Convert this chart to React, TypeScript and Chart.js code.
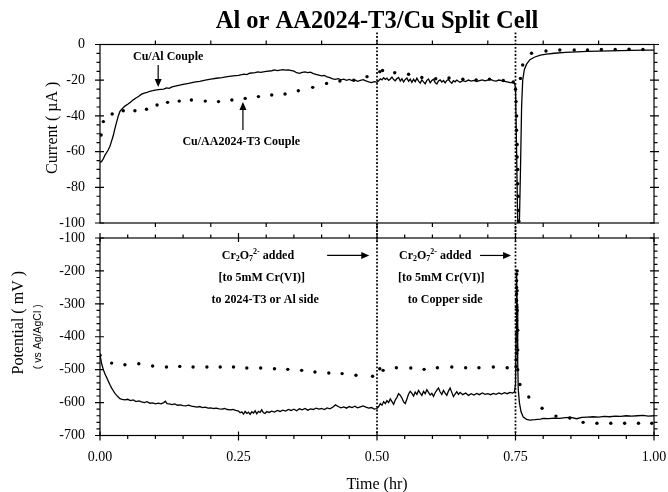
import React, { useEffect, useRef } from "react";
import { Chart, registerables } from "chart.js";

Chart.register(...registerables);

const SERIF = "'Liberation Serif', 'Times New Roman', Times, serif";
const SANS = "'Liberation Sans', Arial, sans-serif";

// ---------------- data ----------------
// Current, Cu/Al couple (solid line)
const cuAlTime = [
  0, 0.003, 0.006, 0.009, 0.012, 0.015, 0.018, 0.021, 0.024, 0.027,
  0.03, 0.033, 0.036, 0.04, 0.045, 0.05, 0.055, 0.06, 0.065, 0.07,
  0.075, 0.08, 0.085, 0.09, 0.095, 0.1, 0.105, 0.11, 0.115, 0.12,
  0.125, 0.13, 0.14, 0.15, 0.16, 0.17, 0.18, 0.19, 0.2, 0.21,
  0.22, 0.23, 0.24, 0.25, 0.26, 0.265, 0.27, 0.28, 0.285, 0.29,
  0.3, 0.31, 0.315, 0.32, 0.33, 0.335, 0.34, 0.35, 0.355, 0.36,
  0.365, 0.37, 0.375, 0.38, 0.385, 0.39, 0.395, 0.4, 0.405, 0.41,
  0.415, 0.42, 0.425, 0.43, 0.435, 0.44, 0.445, 0.45, 0.455, 0.46,
  0.465, 0.47, 0.475, 0.48, 0.485, 0.49, 0.495, 0.5, 0.503, 0.506,
  0.509, 0.512, 0.515, 0.518, 0.521, 0.524, 0.527, 0.53, 0.533, 0.536,
  0.539, 0.542, 0.545, 0.548, 0.551, 0.554, 0.557, 0.56, 0.563, 0.566,
  0.569, 0.572, 0.575, 0.578, 0.581, 0.584, 0.587, 0.59, 0.593, 0.596,
  0.599, 0.602, 0.605, 0.608, 0.611, 0.614, 0.617, 0.62, 0.623, 0.626,
  0.629, 0.632, 0.635, 0.638, 0.641, 0.644, 0.647, 0.65, 0.655, 0.66,
  0.665, 0.67, 0.675, 0.68, 0.685, 0.69, 0.695, 0.7, 0.705, 0.71,
  0.715, 0.72, 0.725, 0.73, 0.735, 0.74, 0.745, 0.748, 0.75, 0.752,
  0.754, 0.757, 0.759, 0.761, 0.763, 0.766, 0.77, 0.776, 0.785, 0.795,
  0.806, 0.82, 0.84, 0.86, 0.88, 0.9, 0.92, 0.94, 0.96, 0.98,
  1.0,
];
const cuAlCurrent = [
  -66, -65.5, -64, -62, -60.5, -59, -57, -54, -51, -47,
  -43.5, -40, -37.5, -36, -34.5, -33.5, -32.3, -31, -30, -29,
  -27.8, -27.2, -26.8, -26.2, -25.9, -25.5, -25.3, -25.1, -25, -24.3,
  -24.6, -23.8, -23.1, -22.4, -21.8, -21.1, -20.6, -20, -19.4, -18.9,
  -18.5, -18, -17.6, -17.3, -16.6, -16.9, -16.1, -15.8, -15.3, -15.6,
  -15, -14.7, -14.2, -14.6, -14.1, -14.4, -14.2, -14.9, -15.8, -16.2,
  -15.6, -15.3, -15.8, -15.5, -16.3, -16.8, -17.2, -17.6, -17.3, -18.2,
  -18.6, -19.2, -19.5, -19.1, -19.8, -19.4, -20.1, -19.6, -20.2, -19.8,
  -20.6, -20.1, -19.7, -20.4, -20.9, -21.3, -20.8, -21.2, -20.3, -19.2,
  -19.8, -18.6, -19.5, -18.9, -20.1, -19.3, -18.2, -19.6, -20.3, -19.1,
  -18.5, -20.4, -19.2, -21, -19.6, -18.8, -20.6, -19.4, -21.2, -19.5,
  -20.8, -18.9, -20.5, -21.6, -19.8, -20.9, -22, -20.1, -19.3, -21.4,
  -20.2, -19.5, -21.3, -22.1, -20.4, -19.8, -21, -20.2, -21.5, -20.1,
  -19.6, -20.8, -21.7, -20.3, -20.9, -19.9, -20.6, -21.2, -20.3, -20.8,
  -19.9, -20.5, -20.1, -20.7, -20.2, -19.8, -20.4, -20, -19.6, -20.2,
  -20.5, -19.9, -20.3, -20.6, -20.9, -21.4, -21.2, -21.6, -24, -60,
  -100, -100, -70, -35, -20, -14, -11, -8.5, -7, -6,
  -5.4, -4.9, -4.4, -4.1, -3.9, -3.7, -3.6, -3.4, -3.3, -3.2,
  -3.1,
];

// Current, Cu/AA2024-T3 couple (dots)
const cuAaTime = [
  0.002, 0.006, 0.022, 0.042, 0.063, 0.084, 0.103, 0.122, 0.143, 0.165,
  0.19, 0.214, 0.238, 0.262, 0.286, 0.31, 0.334, 0.358, 0.384, 0.409,
  0.433, 0.458, 0.482, 0.505, 0.51, 0.532, 0.557, 0.581, 0.606, 0.63,
  0.655, 0.679, 0.703, 0.728, 0.746, 0.75, 0.751, 0.752, 0.752, 0.753,
  0.753, 0.754, 0.754, 0.755, 0.755, 0.756, 0.759, 0.763, 0.779, 0.805,
  0.83, 0.856, 0.88, 0.905, 0.93, 0.955, 0.98,
];
const cuAaCurrent = [
  -50.7, -43.2, -38.9, -37.1, -37.1, -36.3, -33.9, -32.4, -31.7, -31.1,
  -31.7, -32, -31.1, -30.2, -29.2, -28.3, -27.7, -25.9, -24, -21.8,
  -20.5, -20, -18, -15.2, -14.6, -15.8, -16.7, -18.5, -19.2, -18.8,
  -19.5, -19.8, -19.4, -20.2, -21, -25, -32, -40, -48, -56,
  -63, -70, -78, -85, -93, -99, -19, -11.5, -4.9, -3.6,
  -3.1, -3.1, -3.1, -2.8, -2.8, -2.6, -2.8,
];

// Potential, Cu/Al couple (solid line)
const cuAlPotTime = [
  0, 0.003, 0.006, 0.009, 0.012, 0.015, 0.018, 0.021, 0.024, 0.027,
  0.03, 0.033, 0.036, 0.04, 0.045, 0.05, 0.055, 0.06, 0.065, 0.07,
  0.075, 0.08, 0.085, 0.09, 0.095, 0.1, 0.105, 0.11, 0.115, 0.118,
  0.121, 0.125, 0.13, 0.135, 0.14, 0.145, 0.15, 0.155, 0.16, 0.165,
  0.17, 0.175, 0.18, 0.185, 0.19, 0.195, 0.2, 0.205, 0.21, 0.215,
  0.22, 0.225, 0.23, 0.235, 0.24, 0.245, 0.25, 0.253, 0.256, 0.259,
  0.262, 0.265, 0.268, 0.271, 0.274, 0.277, 0.28, 0.283, 0.286, 0.289,
  0.292, 0.295, 0.298, 0.301, 0.305, 0.31, 0.315, 0.32, 0.325, 0.33,
  0.335, 0.34, 0.345, 0.35, 0.355, 0.36, 0.365, 0.37, 0.375, 0.38,
  0.385, 0.39, 0.395, 0.4, 0.405, 0.41, 0.415, 0.42, 0.425, 0.43,
  0.435, 0.44, 0.445, 0.45, 0.455, 0.46, 0.465, 0.47, 0.475, 0.48,
  0.485, 0.49, 0.495, 0.5, 0.503, 0.506, 0.509, 0.512, 0.515, 0.518,
  0.521, 0.524, 0.527, 0.53, 0.533, 0.536, 0.539, 0.542, 0.545, 0.548,
  0.551, 0.554, 0.557, 0.56, 0.563, 0.566, 0.569, 0.572, 0.575, 0.578,
  0.581, 0.584, 0.587, 0.59, 0.593, 0.596, 0.599, 0.602, 0.605, 0.608,
  0.611, 0.614, 0.617, 0.62, 0.623, 0.626, 0.629, 0.632, 0.635, 0.638,
  0.641, 0.644, 0.647, 0.65, 0.655, 0.66, 0.665, 0.67, 0.675, 0.68,
  0.685, 0.69, 0.695, 0.7, 0.705, 0.71, 0.715, 0.72, 0.725, 0.73,
  0.735, 0.74, 0.745, 0.748, 0.75, 0.751, 0.752, 0.753, 0.754, 0.755,
  0.757, 0.76, 0.764, 0.77, 0.776, 0.785, 0.795, 0.8, 0.81, 0.82,
  0.83, 0.84, 0.85, 0.86, 0.87, 0.88, 0.89, 0.9, 0.91, 0.92,
  0.93, 0.94, 0.95, 0.96, 0.97, 0.98, 0.99, 1.0,
];
const cuAlPotential = [
  -456, -482, -500, -513, -524, -535, -546, -556, -564, -572,
  -578, -583, -588, -590, -592, -590, -594, -592, -597, -595,
  -598, -600, -597, -602, -601, -604, -602, -604, -600, -596,
  -603, -604, -606, -604, -608, -607, -609, -610, -608, -611,
  -612, -614, -612, -615, -614, -617, -616, -618, -617, -619,
  -620, -618, -621, -622, -621, -624, -626, -631, -628, -635,
  -627, -633, -629, -636, -628, -632, -625, -634, -627, -630,
  -622, -631, -633, -627, -630, -626, -629, -624, -627, -623,
  -626, -621, -624, -620, -625, -619, -622, -618, -623, -619,
  -621, -617, -620, -618, -621, -616, -619, -614, -607, -612,
  -616, -613, -617, -612, -615, -611, -616, -613, -610, -614,
  -617, -615, -620, -618, -612, -603, -608, -597, -603, -594,
  -600, -589, -597, -605, -592, -584, -573, -578, -586, -598,
  -603, -589, -574, -566, -572, -580, -568, -575, -563, -571,
  -578, -566, -573, -561, -569, -577, -572, -581, -570, -562,
  -556, -568, -575, -563, -571, -578, -565, -556, -569, -582,
  -574, -567, -575, -569, -576, -571, -578, -573, -577, -572,
  -576, -571, -575, -573, -576, -572, -575, -571, -574, -570,
  -573, -569, -571, -568, -545, -400, -205, -300, -480, -560,
  -600, -628, -644, -651, -653, -652, -650, -648, -649, -647,
  -648, -646, -645, -649, -645, -644, -643, -644, -642, -643,
  -641, -642, -640, -641, -640, -639, -641, -640,
];

// Potential, Cu/AA2024-T3 couple (dots)
const cuAaPotTime = [
  0, 0.021, 0.045, 0.07, 0.095, 0.12, 0.144, 0.168, 0.193, 0.217,
  0.241, 0.265, 0.29, 0.315, 0.339, 0.364, 0.388, 0.413, 0.437, 0.462,
  0.492, 0.505, 0.511, 0.535, 0.561, 0.585, 0.609, 0.635, 0.66, 0.684,
  0.71, 0.735, 0.751, 0.751, 0.752, 0.752, 0.752, 0.752, 0.752, 0.752,
  0.752, 0.752, 0.752, 0.752, 0.752, 0.752, 0.752, 0.753, 0.753, 0.753,
  0.754, 0.754, 0.754, 0.758, 0.774, 0.798, 0.823, 0.848, 0.872, 0.897,
  0.922, 0.947, 0.972, 0.996,
];
const cuAaPotential = [
  -456, -480, -485, -482, -489, -492, -490, -492, -492, -492,
  -492, -495, -495, -497, -499, -502, -507, -510, -512, -517,
  -520, -497, -502, -494, -495, -499, -494, -492, -494, -494,
  -492, -494, -490, -470, -450, -430, -410, -390, -370, -350,
  -330, -310, -290, -270, -250, -230, -210, -200, -260, -320,
  -380, -440, -500, -545, -583, -617, -641, -647, -660, -663,
  -663, -663, -663, -663,
];

// axes ticks
const currentTicks = [0, -20, -40, -60, -80, -100];
const currentMinorTicks = [-5, -10, -15, -25, -30, -35, -45, -50, -55, -65, -70, -75, -85, -90, -95];
const potentialTicks = [-100, -200, -300, -400, -500, -600, -700];
const potentialMinorTicks = [
  -120, -140, -160, -180, -220, -240, -260, -280, -320, -340, -360, -380,
  -420, -440, -460, -480, -520, -540, -560, -580, -620, -640, -660, -680,
];
const timeTicks = [0, 0.25, 0.5, 0.75, 1];
const timeMinorTicks = [0.05, 0.1, 0.15, 0.2, 0.3, 0.35, 0.4, 0.45, 0.55, 0.6, 0.65, 0.7, 0.8, 0.85, 0.9, 0.95];
const topTimeTicks = [0.1, 0.2, 0.3, 0.4, 0.5, 0.6, 0.7, 0.8, 0.9];

// events (Cr2O7 2- additions)
const additionTimes = [0.5, 0.75];

// text
const chartTitle = "Al or AA2024-T3/Cu Split Cell";
const coupleLabels = ["Cu/Al Couple", "Cu/AA2024-T3 Couple"];
const coupleLabelTimes = [0.123, 0.255];
const coupleLabelCurrents = [-7, -54.6];
const coupleArrowTimes = [0.105, 0.258];
const coupleArrowFrom = [-11.5, -47.9];
const coupleArrowTo = [-23.8, -32.2];

const noteSecondLines = ["[to 5mM Cr(VI)]", "[to 5mM Cr(VI)]"];
const noteThirdLines = ["to 2024-T3 or Al side", "to Copper side"];
const noteLineTimes = [
  [0.285, 0.292, 0.298],
  [0.605, 0.616, 0.623],
];
const noteLinePotentials = [-153, -221, -288];
const noteArrowStart = [0.41, 0.686];
const noteArrowEnd = [0.486, 0.742];

// ---------------- helpers ----------------
const toPoints = (ts: number[], vs: number[]) =>
  ts.slice(0, Math.min(ts.length, vs.length)).map((t, i) => ({ x: t, y: vs[i] }));

function drawArrow(ctx: CanvasRenderingContext2D, x1: number, y1: number, x2: number, y2: number) {
  const a = Math.atan2(y2 - y1, x2 - x1);
  const hl = 8;
  const hw = 3.5;
  const c = Math.cos(a);
  const s = Math.sin(a);
  ctx.beginPath();
  ctx.moveTo(x1, y1);
  ctx.lineTo(x2 - hl * 0.7 * c, y2 - hl * 0.7 * s);
  ctx.stroke();
  ctx.beginPath();
  ctx.moveTo(x2, y2);
  ctx.lineTo(x2 - hl * c + hw * s, y2 - hl * s - hw * c);
  ctx.lineTo(x2 - hl * c - hw * s, y2 - hl * s + hw * c);
  ctx.closePath();
  ctx.fill();
}

type FrameSpec = {
  yMajor: number[];
  yMinor: number[];
  xMajor: number[];
  xMinor: number[];
  xMinorLen: number;
};

function framePlugin(id: string, spec: FrameSpec) {
  return {
    id,
    afterDraw(chart: any) {
      const { ctx } = chart;
      const { left, right, top, bottom } = chart.chartArea;
      const xs = chart.scales.x;
      const ys = chart.scales.y;
      ctx.save();
      ctx.strokeStyle = "#000";
      ctx.lineWidth = 1.2;
      ctx.strokeRect(left, top, right - left, bottom - top);
      ctx.beginPath();
      for (const v of spec.yMajor) {
        const p = ys.getPixelForValue(v);
        ctx.moveTo(left - 5, p);
        ctx.lineTo(left + 4, p);
        ctx.moveTo(right - 4, p);
        ctx.lineTo(right + 5, p);
      }
      for (const v of spec.yMinor) {
        const p = ys.getPixelForValue(v);
        ctx.moveTo(left - 3.5, p);
        ctx.lineTo(left, p);
        ctx.moveTo(right, p);
        ctx.lineTo(right + 3.5, p);
      }
      for (const v of spec.xMajor) {
        const p = xs.getPixelForValue(v);
        ctx.moveTo(p, bottom - 4);
        ctx.lineTo(p, bottom + 5);
        ctx.moveTo(p, top - 5);
        ctx.lineTo(p, top + 4);
      }
      for (const v of spec.xMinor) {
        const p = xs.getPixelForValue(v);
        ctx.moveTo(p, bottom);
        ctx.lineTo(p, bottom + spec.xMinorLen);
        ctx.moveTo(p, top - spec.xMinorLen);
        ctx.lineTo(p, top);
      }
      ctx.stroke();
      ctx.restore();
    },
  };
}

function drawDottedEvents(chart: any, y1: number, y2: number) {
  const { ctx } = chart;
  const xs = chart.scales.x;
  ctx.save();
  ctx.strokeStyle = "#000";
  ctx.lineWidth = 1.7;
  ctx.setLineDash([1.8, 1.8]);
  for (const t of additionTimes) {
    const px = xs.getPixelForValue(t);
    ctx.beginPath();
    ctx.moveTo(px, y1);
    ctx.lineTo(px, y2);
    ctx.stroke();
  }
  ctx.restore();
}

const topNotesPlugin = {
  id: "topNotes",
  afterDraw(chart: any) {
    const { ctx } = chart;
    const xs = chart.scales.x;
    const ys = chart.scales.y;
    drawDottedEvents(chart, chart.chartArea.top - 12, chart.height);
    ctx.save();
    ctx.fillStyle = "#000";
    ctx.strokeStyle = "#000";
    ctx.lineWidth = 1.2;
    ctx.font = `bold 12px ${SERIF}`;
    ctx.textAlign = "center";
    ctx.textBaseline = "middle";
    coupleLabels.forEach((s, i) => {
      ctx.fillText(s, xs.getPixelForValue(coupleLabelTimes[i]), ys.getPixelForValue(coupleLabelCurrents[i]));
      const ax = xs.getPixelForValue(coupleArrowTimes[i]);
      drawArrow(ctx, ax, ys.getPixelForValue(coupleArrowFrom[i]), ax, ys.getPixelForValue(coupleArrowTo[i]));
    });
    ctx.restore();
  },
};

function drawFormula(ctx: CanvasRenderingContext2D, cx: number, cy: number) {
  const big = `bold 12px ${SERIF}`;
  const small = `bold 8px ${SERIF}`;
  const parts = [
    { t: "Cr", f: big, dy: 0 },
    { t: "2", f: small, dy: 3 },
    { t: "O", f: big, dy: 0 },
    { t: "7", f: small, dy: 3 },
    { t: "2-", f: small, dy: -4 },
    { t: " added", f: big, dy: 0 },
  ];
  let total = 0;
  const widths = parts.map((p) => {
    ctx.font = p.f;
    const w = ctx.measureText(p.t).width;
    total += w;
    return w;
  });
  let x = cx - total / 2;
  ctx.textAlign = "left";
  ctx.textBaseline = "middle";
  parts.forEach((p, i) => {
    ctx.font = p.f;
    ctx.fillText(p.t, x, cy + p.dy);
    x += widths[i];
  });
}

const bottomNotesPlugin = {
  id: "bottomNotes",
  afterDraw(chart: any) {
    const { ctx } = chart;
    const xs = chart.scales.x;
    const ys = chart.scales.y;
    drawDottedEvents(chart, 0, chart.chartArea.bottom);
    ctx.save();
    ctx.fillStyle = "#000";
    ctx.strokeStyle = "#000";
    ctx.lineWidth = 1.2;
    for (let g = 0; g < 2; g++) {
      const ts = noteLineTimes[g];
      drawFormula(ctx, xs.getPixelForValue(ts[0]), ys.getPixelForValue(noteLinePotentials[0]));
      ctx.font = `bold 12px ${SERIF}`;
      ctx.textAlign = "center";
      ctx.textBaseline = "middle";
      ctx.fillText(noteSecondLines[g], xs.getPixelForValue(ts[1]), ys.getPixelForValue(noteLinePotentials[1]));
      ctx.fillText(noteThirdLines[g], xs.getPixelForValue(ts[2]), ys.getPixelForValue(noteLinePotentials[2]));
      const ay = ys.getPixelForValue(noteLinePotentials[0]);
      drawArrow(ctx, xs.getPixelForValue(noteArrowStart[g]), ay, xs.getPixelForValue(noteArrowEnd[g]), ay);
    }
    ctx.restore();
  },
};

const tickFont = { family: SERIF, size: 14 };
const noGrid = { display: false, drawTicks: false };
// invisible tick marks used only as spacing between the axis and its labels
const spacerGrid = (len: number) => ({
  display: true,
  drawOnChartArea: false,
  drawTicks: true,
  tickLength: len,
  color: "rgba(0,0,0,0)",
  tickColor: "rgba(0,0,0,0)",
});

function topConfig(): any {
  return {
    type: "scatter",
    data: {
      datasets: [
        {
          label: "Cu/Al Couple",
          data: toPoints(cuAlTime, cuAlCurrent),
          showLine: true,
          borderColor: "#000",
          borderWidth: 1.3,
          pointRadius: 0,
          tension: 0,
        },
        {
          label: "Cu/AA2024-T3 Couple",
          data: toPoints(cuAaTime, cuAaCurrent),
          showLine: false,
          pointRadius: 1.7,
          pointBackgroundColor: "#000",
          pointBorderWidth: 0,
          backgroundColor: "#000",
        },
      ],
    },
    options: {
      animation: false,
      responsive: false,
      devicePixelRatio: 1,
      layout: { padding: { left: 0, right: 14, top: 0, bottom: 9 } },
      plugins: {
        legend: { display: false },
        tooltip: { enabled: false },
        title: {
          display: true,
          text: chartTitle,
          color: "#000",
          fullSize: false,
          font: { family: SERIF, size: 24.5, weight: "bold" },
          padding: { top: 6.5, bottom: 8.6 },
        },
      },
      scales: {
        x: { type: "linear", display: false, min: 0, max: 1 },
        y: {
          type: "linear",
          min: -100,
          max: 0,
          afterFit: (s: any) => {
            s.width = 100;
          },
          afterBuildTicks: (s: any) => {
            s.ticks = currentTicks.map((v) => ({ value: v }));
          },
          grid: spacerGrid(15),
          border: { display: false },
          ticks: { color: "#000", font: tickFont, padding: 0 },
          title: {
            display: true,
            text: "   Current ( µA )",
            color: "#000",
            font: { family: SERIF, size: 16 },
            padding: { top: 43, bottom: 0 },
          },
        },
      },
    },
    plugins: [
      framePlugin("frameTop", {
        yMajor: currentTicks,
        yMinor: currentMinorTicks,
        xMajor: [],
        xMinor: topTimeTicks,
        xMinorLen: 4,
      }),
      topNotesPlugin,
    ],
  };
}

function bottomConfig(): any {
  return {
    type: "scatter",
    data: {
      datasets: [
        {
          label: "Cu/Al Couple",
          data: toPoints(cuAlPotTime, cuAlPotential),
          showLine: true,
          borderColor: "#000",
          borderWidth: 1.3,
          pointRadius: 0,
          tension: 0,
        },
        {
          label: "Cu/AA2024-T3 Couple",
          data: toPoints(cuAaPotTime, cuAaPotential),
          showLine: false,
          pointRadius: 1.7,
          pointBackgroundColor: "#000",
          pointBorderWidth: 0,
          backgroundColor: "#000",
        },
      ],
    },
    options: {
      animation: false,
      responsive: false,
      devicePixelRatio: 1,
      layout: { padding: { left: 0, right: 14, top: 12, bottom: 0 } },
      plugins: {
        legend: { display: false },
        tooltip: { enabled: false },
        title: { display: false },
      },
      scales: {
        x: {
          type: "linear",
          min: 0,
          max: 1,
          afterFit: (s: any) => {
            s.height = 60.5;
          },
          afterBuildTicks: (s: any) => {
            s.ticks = timeTicks.map((v) => ({ value: v }));
          },
          grid: spacerGrid(13),
          border: { display: false },
          ticks: {
            color: "#000",
            font: tickFont,
            padding: 0,
            maxRotation: 0,
            autoSkip: false,
            callback: (v: any) => Number(v).toFixed(2),
          },
          title: {
            display: true,
            text: "Time (hr)",
            color: "#000",
            font: { family: SERIF, size: 16 },
            padding: { top: 0, bottom: 1.4 },
          },
        },
        y: {
          type: "linear",
          position: "left",
          weight: 0,
          min: -700,
          max: -100,
          afterFit: (s: any) => {
            s.width = 72;
          },
          afterBuildTicks: (s: any) => {
            s.ticks = potentialTicks.map((v) => ({ value: v }));
          },
          grid: spacerGrid(15),
          border: { display: false },
          ticks: { color: "#000", font: tickFont, padding: 0 },
          title: {
            display: true,
            text: "( vs Ag/AgCl )",
            color: "#000",
            font: { family: SANS, size: 10.5 },
            padding: { top: 3.7, bottom: 0 },
          },
        },
        yName: {
          type: "linear",
          position: "left",
          weight: 1,
          min: -700,
          max: -100,
          afterFit: (s: any) => {
            s.width = 28;
          },
          grid: noGrid,
          border: { display: false },
          ticks: { display: false },
          title: {
            display: true,
            text: "       Potential ( mV )",
            color: "#000",
            font: { family: SERIF, size: 16 },
            padding: { top: 9.4, bottom: 0 },
          },
        },
      },
    },
    plugins: [
      framePlugin("frameBottom", {
        yMajor: potentialTicks,
        yMinor: potentialMinorTicks,
        xMajor: timeTicks,
        xMinor: timeMinorTicks,
        xMinorLen: 3.5,
      }),
      bottomNotesPlugin,
    ],
  };
}

export default function App() {
  const topRef = useRef<HTMLCanvasElement>(null);
  const bottomRef = useRef<HTMLCanvasElement>(null);

  useEffect(() => {
    Chart.defaults.font.family = SERIF;
    Chart.defaults.color = "#000";
    const c1 = new Chart(topRef.current as HTMLCanvasElement, topConfig());
    const c2 = new Chart(bottomRef.current as HTMLCanvasElement, bottomConfig());
    return () => {
      c1.destroy();
      c2.destroy();
    };
  }, []);

  return (
    <div
      style={{
        position: "absolute",
        left: 0,
        top: 0,
        width: 668,
        height: 492,
        background: "#fff",
        overflow: "hidden",
      }}
    >
      <canvas
        ref={topRef}
        width={668}
        height={232}
        style={{ position: "absolute", left: 0, top: 0, width: 668, height: 232 }}
      />
      <canvas
        ref={bottomRef}
        width={668}
        height={270}
        style={{ position: "absolute", left: 0, top: 226, width: 668, height: 270 }}
      />
    </div>
  );
}
